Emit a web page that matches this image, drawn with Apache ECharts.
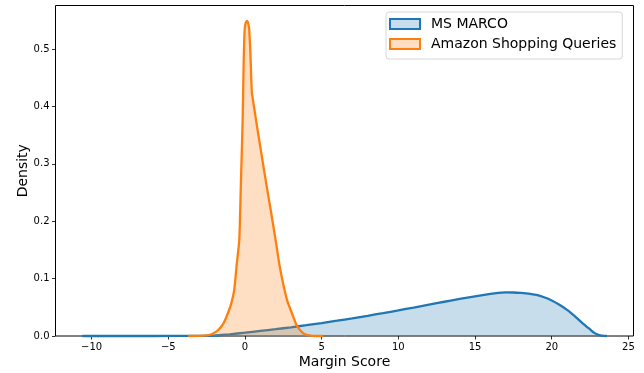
<!DOCTYPE html>
<html>
<head>
<meta charset="utf-8">
<script src="https://cdn.jsdelivr.net/npm/echarts@6/dist/echarts.min.js"></script>
<style>html,body{margin:0;padding:0;background:#fff;}#c{width:644px;height:373px;}</style>
</head>
<body>
<div id="c"></div>
<script>
const seriesNames = ['MS MARCO', 'Amazon Shopping Queries'];
const xTicks = [-10, -5, 0, 5, 10, 15, 20, 25];
const yTicks = [0, 0.1, 0.2, 0.3, 0.4, 0.5];

const msmarcoX = [-10.6, -6, -3, -2, -1.5, -1, 0, 1, 2, 3, 4, 5, 6, 7, 8, 9, 10, 11, 12, 13, 14, 15, 16, 16.5, 17, 17.5, 18, 18.5, 19, 19.5, 20, 20.5, 21, 21.5, 22, 22.5, 22.8, 23.1, 23.6];
const msmarcoY = [0, 0, 0.0002, 0.0008, 0.0018, 0.003, 0.0058, 0.0088, 0.0119, 0.0152, 0.0188, 0.0226, 0.0266, 0.0308, 0.0352, 0.0398, 0.0446, 0.0496, 0.0547, 0.0597, 0.0645, 0.0690, 0.0735, 0.0752, 0.0760, 0.0758, 0.0750, 0.0738, 0.0715, 0.0675, 0.0620, 0.0545, 0.0455, 0.0345, 0.0225, 0.0115, 0.005, 0.0017, 0];

const amazonX = [-3.7, -3, -2.5, -2.17, -1.74, -1.4, -1.15, -0.9, -0.7, -0.54, -0.37, -0.26, -0.15, -0.08, -0.02, 0.04, 0.13, 0.22, 0.28, 0.36, 0.45, 0.6, 0.8, 1.0, 1.3, 1.6, 1.8, 2.0, 2.25, 2.5, 2.75, 3.1, 3.35, 3.59, 3.9, 4.4, 5.1];
const amazonY = [0, 0.0002, 0.001, 0.003, 0.0105, 0.022, 0.037, 0.056, 0.08, 0.124, 0.167, 0.27, 0.376, 0.481, 0.533, 0.545, 0.549, 0.544, 0.533, 0.49, 0.425, 0.398, 0.363, 0.33, 0.28, 0.232, 0.2, 0.167, 0.124, 0.09, 0.062, 0.037, 0.02, 0.0105, 0.003, 0.0004, 0];

const colors = ['#1f77b4', '#ff7f0e'];
const fills = ['rgba(31,119,180,0.25)', 'rgba(255,127,14,0.25)'];

function pairs(xs, ys) { return xs.map((x, i) => [x, ys[i]]); }
const FONT = 'DejaVu Sans';
function fmtX(v) { return v < 0 ? '\u2212' + Math.abs(v) : String(v); }

const chart = echarts.init(document.getElementById('c'), null, {renderer: 'canvas'});
chart.setOption({
  animation: false,
  backgroundColor: '#fff',
  grid: {left: 55.5, right: 10.5, top: 5.5, bottom: 37, show: true, borderColor: '#000', borderWidth: 1, backgroundColor: 'transparent', outerBoundsMode: 'none', containLabel: false},
  legend: {
    orient: 'vertical', left: 386, top: 12,
    padding: [4, 6, 7, 3],
    itemWidth: 30, itemHeight: 10, itemGap: 4,
    borderColor: '#d6d6d6', borderWidth: 1, borderRadius: 3,
    backgroundColor: 'rgba(255,255,255,0.8)',
    textStyle: {fontFamily: FONT, fontSize: 14, color: '#000', lineHeight: 16, padding: [0, 0, 0, 6]},
    data: seriesNames.map((n, i) => ({name: n, icon: 'rect', itemStyle: {color: fills[i], borderColor: colors[i], borderWidth: 2, opacity: 1}}))
  },
  xAxis: {
    type: 'value', min: -12.35, max: 25.33,
    name: 'Margin Score', nameLocation: 'middle', nameGap: 19, nameMoveOverlap: false,
    nameTextStyle: {fontFamily: FONT, fontSize: 14, color: '#000'},
    axisLine: {show: false, onZero: false},
    axisTick: {show: true, length: 3.5, customValues: xTicks, lineStyle: {color: '#000', width: 0.8}},
    axisLabel: {customValues: xTicks, formatter: fmtX, fontFamily: FONT, fontSize: 10, color: '#000', margin: 6},
    splitLine: {show: false}
  },
  yAxis: {
    type: 'value', min: 0, max: 0.576,
    name: 'Density', nameLocation: 'middle', nameGap: 25, nameMoveOverlap: false,
    nameTextStyle: {fontFamily: FONT, fontSize: 14, color: '#000'},
    axisLine: {show: false, onZero: false},
    axisTick: {show: true, length: 3.5, customValues: yTicks, lineStyle: {color: '#000', width: 0.8}},
    axisLabel: {customValues: yTicks, formatter: v => v.toFixed(1), fontFamily: FONT, fontSize: 10, color: '#000', margin: 6},
    splitLine: {show: false}
  },
  series: [
    {name: seriesNames[0], type: 'line', data: pairs(msmarcoX, msmarcoY), showSymbol: false, symbol: 'none', clip: false,
     smooth: 0.2,
     lineStyle: {color: colors[0], width: 2.3}, itemStyle: {color: colors[0]}, areaStyle: {color: fills[0], opacity: 1, origin: 'start'}, z: 2},
    {name: seriesNames[1], type: 'line', data: pairs(amazonX, amazonY), showSymbol: false, symbol: 'none', clip: false,
     smooth: 0.2,
     lineStyle: {color: colors[1], width: 2.3}, itemStyle: {color: colors[1]}, areaStyle: {color: fills[1], opacity: 1, origin: 'start'}, z: 3}
  ]
});
</script>
</body>
</html>
